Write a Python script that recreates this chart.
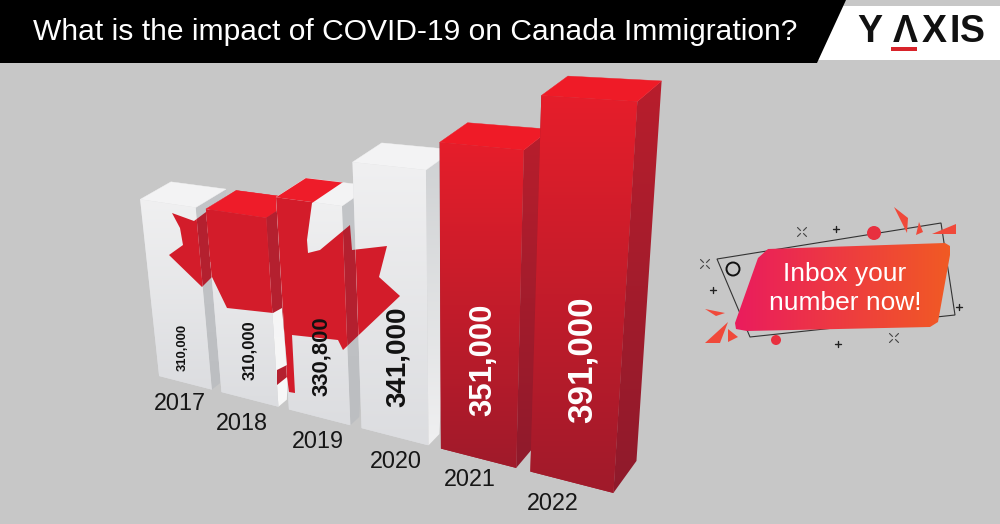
import numpy as np, matplotlib
matplotlib.use("Agg")
import matplotlib.pyplot as plt, seaborn as sns
from matplotlib.colors import to_rgb
from matplotlib.patches import Polygon, Circle
from matplotlib.path import Path
from matplotlib.transforms import Affine2D, IdentityTransform, Transform

# ---- data
years = ["2017", "2018", "2019", "2020", "2021", "2022"]
values = [310000, 310000, 330800, 341000, 351000, 391000]
value_labels = ["310,000", "310,000", "330,800", "341,000", "351,000", "391,000"]
title = "What is the impact of COVID-19 on Canada Immigration?"

# ---- the picture's camera and its non-linear value / category scales
CAMERA = np.array([[51.65539, 31.84824, -18.09959, 201.17770],
                   [0.96834, -11.31327, -124.32501, 546.30250],
                   [-0.03678, 0.02446, -0.03993, 1.0]])
SCALE_IN = [150000, 310000, 330800, 341000, 351000, 391000]
SCALE_OUT = [1.5, 2.9509, 3.1078, 3.4099, 3.5897, 3.91]
SLOT_SHIFT = [0, -0.0062, -0.0095, -0.0296, -0.0333, 0]
BASELINE = 150000
BAR_WIDTH = 0.85
BASE_DEPTH = [.30, .30, .33, .42, .65, 1.05]

# ---- styling
BG = "#c7c7c7"
RED_TOP, RED_BOT = "#e61e2a", "#a01a2b"
LEAF_FRONT, LEAF_SIDE, LEAF_TOP = "#d31c2a", "#b4202f", "#ee1c29"
front_c = [("#f0f0f1", "#dcdde0")] * 4 + [(RED_TOP, RED_BOT)] * 2
side_c = [("#c3c5c8", "#bcbec1"), ("#f2f2f3", "#f8f8f8"), ("#c3c5c8", "#bcbec1"),
          ("#cfd1d3", "#f0f0f1"), ("#b81e2d", "#8f1a2b"), ("#b81e2d", "#8f1a2b")]
top_c = ["#f3f3f4", "#ee1c29", "#f3f3f4", "#f3f3f4", "#ef1b27", "#ef1b27"]
label_xy = [(183, 347), (250, 350), (322, 356), (398, 357), (483, 360), (582, 360)]
label_px = [13, 16.6, 22, 27.7, 31.2, 35]
label_c = ["#111111"] * 4 + ["white"] * 2
year_xy = [(180, 403), (242, 424), (318, 442), (396, 462), (470, 480), (553, 504)]

LEAF = [(172, 213), (194, 221), (206, 212), (247, 182), (287, 187), (312, 170), (352, 176),
        (312, 203), (307, 240), (308, 253), (320, 250), (350, 225), (352, 250), (387, 246),
        (379, 277), (400, 296), (343, 350), (338, 340), (292, 335), (295, 393), (289, 392),
        (287, 377), (277, 385), (277, 370), (287, 365), (282, 308), (273, 313), (227, 308),
        (212, 277), (202, 287), (169, 255), (183, 245), (180, 228)]
FLAG_BAND = [(190, 170), (310, 170), (310, 262), (190, 262)]


def warp(v):
    return np.interp(v, SCALE_IN, SCALE_OUT)


def cam(slot, depth, v):
    slot, depth, v = np.broadcast_arrays(np.asarray(slot, float), depth, v)
    s = slot + np.interp(slot, range(6), SLOT_SHIFT)
    h = CAMERA @ np.vstack([s, depth, warp(v), np.ones_like(s)])
    return (h[:2] / h[2]).T


class CameraTransform(Transform):
    input_dims = output_dims = 2

    def transform_non_affine(self, xy):
        xy = np.asarray(xy, float)
        return cam(xy[:, 0], np.zeros(len(xy)), xy[:, 1])


sns.set_style("white")
plt.rcParams["font.family"] = ["Liberation Sans", "DejaVu Sans"]
fig = plt.figure(figsize=(10, 5.24), dpi=100, facecolor=BG)
ax = fig.add_axes([0, 0, 1, 1])
sns.barplot(x=years, y=values, width=BAR_WIDTH, saturation=1, ax=ax)
ax.axis("off")
ax.set_autoscale_on(False)
px = Affine2D().scale(1, -1).translate(0, 524)
camera_px = CameraTransform() + px


def gradient(pts, c0, c1, z, horizontal=False):
    pts = np.asarray(pts, float)
    t = np.linspace(0, 1, 128)[:, None]
    a = np.array(to_rgb(c0)) * (1 - t) + np.array(to_rgb(c1)) * t
    arr = np.stack([a, a], axis=1)
    if horizontal:
        arr = arr.transpose(1, 0, 2)
    x0, y0 = pts[:, 0].min(), pts[:, 1].min()
    x1, y1 = pts[:, 0].max(), pts[:, 1].max()
    im = ax.imshow(arr, extent=(x0, x1, 524 - y1, 524 - y0), origin="upper", aspect="auto",
                   interpolation="bilinear", transform=IdentityTransform(), zorder=z)
    im.set_clip_path(Path(np.vstack([pts, pts[0]]), closed=True), px)
    return im


def flat(pts, color, z):
    ax.add_patch(Polygon(pts, closed=True, fc=color, ec=color, lw=.3, transform=px, zorder=z,
                         clip_on=False))


def leaf_on(face, color, z, shape=LEAF):
    p = Polygon(shape, closed=True, fc=color, ec="none", transform=px, zorder=z)
    ax.add_patch(p)
    p.set_clip_path(Path(np.vstack([face, face[0]]), closed=True), px)


bars = list(ax.patches)
for i, rect in enumerate(bars):
    v = rect.get_height()
    l, r = rect.get_x(), rect.get_x() + rect.get_width()
    rect.set_y(BASELINE)
    rect.set_height(v - BASELINE)
    rect.set_transform(camera_px)
    rect.set_clip_on(False)
    rect.set_facecolor(front_c[i][1])
    rect.set_edgecolor("none")
    rect.set_linewidth(0)
    z = 10 + 10 * i
    rect.set_zorder(z)
    front = cam([l, r, r, l], [0] * 4, [v, v, BASELINE, BASELINE])
    side = cam([r, r, r, r], [0, 1, BASE_DEPTH[i], 0], [v, v, BASELINE, BASELINE])
    top = cam([l, r, r, l], [0, 0, 1, 1], [v] * 4)
    gradient(side, *side_c[i], z + 1)
    flat(top, top_c[i], z + 1.5)
    gradient(front, *front_c[i], z + 2)
    if i < 4:
        leaf_on(side, LEAF_SIDE, z + 3)
        leaf_on(top, LEAF_TOP, z + 3)
        leaf_on(front, LEAF_FRONT, z + 3)
    if i == 1:
        leaf_on(side, LEAF_SIDE, z + 3, FLAG_BAND)
        leaf_on(front, LEAF_FRONT, z + 3, FLAG_BAND)

T = dict(transform=px, zorder=150)
for s, xy, size, c in zip(value_labels, label_xy, label_px, label_c):
    ax.text(*xy, s, rotation=90, ha="center", va="center", fontsize=size * .72, color=c,
            fontweight="bold", **T)
for s, xy in zip(years, year_xy):
    ax.text(*xy, s, ha="center", va="center", fontsize=16.8, color="#161616", **T)

# header
ax.add_patch(Polygon([(840, 6), (1000, 6), (1000, 60), (815, 60)], fc="white", ec="none", **T))
ax.add_patch(Polygon([(0, 0), (846, 0), (817, 63), (0, 63)], fc="black", ec="none", **T))
ax.text(33, 32, title, ha="left", va="center", color="white", fontsize=21.6, transform=px, zorder=160)
for s, x in [("Y", 870), ("\u039b", 905), ("X", 934), ("I", 955), ("S", 972.5)]:
    ax.text(x, 32, s, ha="center", va="center", color="#111111", fontsize=27, fontweight="bold",
            transform=px, zorder=160)
ax.add_patch(Polygon([(891, 47), (917, 47), (917, 50.5), (891, 50.5)], fc="#d8232a", ec="none", transform=px, zorder=160))

# badge
BADGE = [(758, 258), (768, 249), (945, 243), (950, 246), (950, 255), (938, 322), (930, 327),
         (747, 331), (736, 329), (735, 323)]
ax.add_patch(Polygon([(717, 259), (941, 223), (955, 315), (750, 337)], fc="none", ec="#333333", lw=.8, **T))
gradient(BADGE, "#ea1c5d", "#f15a24", 155, horizontal=True)
ax.text(845, 274, "Inbox your", ha="center", va="center", color="white", fontsize=19, transform=px, zorder=160)
ax.text(845, 303, "number now!", ha="center", va="center", color="white", fontsize=19, transform=px, zorder=160)
SHARDS = [[(894, 207), (908, 218), (907, 233)], [(919, 222), (923, 232), (916, 235)],
          [(956, 224), (956, 234), (932, 234)], [(705, 309), (725, 313), (716, 316)],
          [(728, 322), (720, 343), (705, 343)], [(728, 329), (738, 337), (728, 342)]]
for s in SHARDS:
    ax.add_patch(Polygon(s, fc="#f0493a", ec="none", **T))
for c, r in [((874, 233), 7), ((776, 340), 5)]:
    ax.add_patch(Circle(c, r, fc="#e8303f", ec="none", **T))
ax.add_patch(Circle((733, 269), 6.5, fc="none", ec="#111111", lw=1.4, **T))
plus = [(713, 290), (836, 229), (959, 307), (838, 344)]
for x, y in plus:
    ax.plot([x - 3, x + 3], [y, y], color="#222222", lw=1, transform=px, zorder=150)
    ax.plot([x, x], [y - 3, y + 3], color="#222222", lw=1, transform=px, zorder=150)
for x, y in [(802, 232), (705, 264), (894, 338)]:
    for sx in (-1, 1):
        for sy in (-1, 1):
            ax.plot([x + 1.5 * sx, x + 4.5 * sx], [y + 1.5 * sy, y + 4.5 * sy], color="#444444",
                    lw=.8, transform=px, zorder=150)

fig.savefig("out.png", dpi=100, facecolor=BG)
